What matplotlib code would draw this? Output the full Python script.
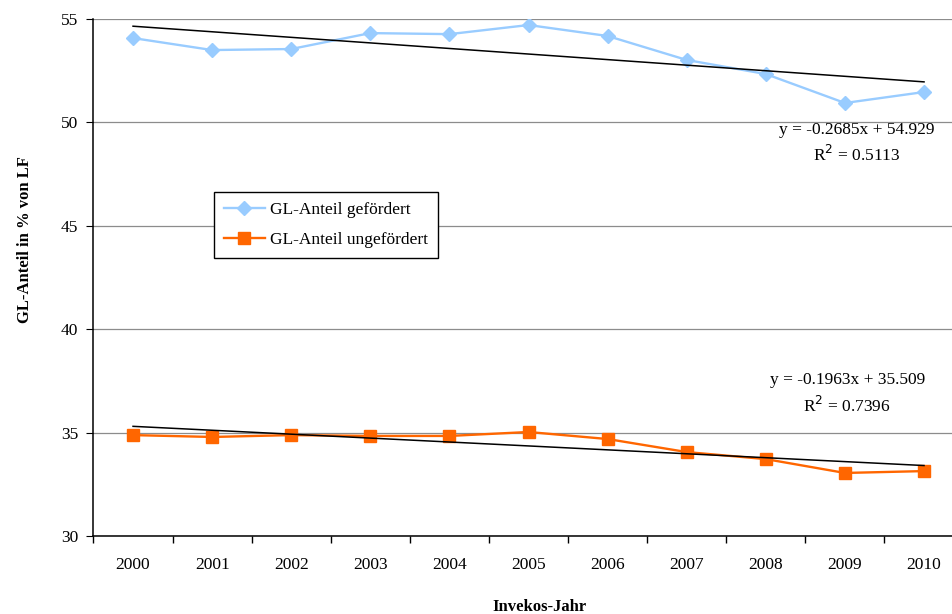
import numpy as np
import matplotlib.pyplot as plt

plt.rcParams['font.family'] = ['Liberation Serif', 'DejaVu Serif']

# data
years = ['2000', '2001', '2002', '2003', '2004', '2005', '2006', '2007', '2008', '2009', '2010']
gefoerdert = [54.08, 53.50, 53.55, 54.32, 54.27, 54.71, 54.18, 53.02, 52.34, 50.94, 51.47]
ungefoerdert = [34.88, 34.79, 34.88, 34.84, 34.84, 35.03, 34.69, 34.06, 33.72, 33.05, 33.14]
eq_gef = ['y = -0.2685x + 54.929', 'R$^2$ = 0.5113']
eq_ungef = ['y = -0.1963x + 35.509', 'R$^2$ = 0.7396']

fig = plt.figure(figsize=(9.53, 6.14), dpi=100)
ax = fig.add_axes([0.0981, 0.127, 0.913, 0.842])

x = np.arange(len(years))
ax.plot(x, gefoerdert, color='#99CCFF', marker='D', markersize=7.5, lw=1.7,
        label='GL-Anteil gefördert', zorder=3)
ax.plot(x, ungefoerdert, color='#FF6600', marker='s', markersize=8.5, lw=1.7,
        label='GL-Anteil ungefördert', zorder=3)

# linear trendlines
for vals in (gefoerdert, ungefoerdert):
    k, d = np.polyfit(x, vals, 1)
    ax.plot(x, k * x + d, color='black', lw=1.1, zorder=4)

ax.set_xlim(-0.5, len(years) - 0.5)
ax.set_ylim(30, 55)
ax.set_yticks(range(30, 56, 5))
ax.set_xticks(x)
ax.set_xticklabels(years)
ax.set_xticks(np.arange(-0.5, len(years), 1), minor=True)
ax.tick_params(axis='x', which='major', length=0, pad=15, labelsize=12.5)
ax.tick_params(axis='x', which='minor', length=5, direction='out', width=1)
ax.tick_params(axis='y', length=5, direction='out', labelsize=12.5, pad=6)
ax.yaxis.grid(True, color='#8c8c8c', lw=0.9)
ax.set_axisbelow(True)
for s in ('top', 'right'):
    ax.spines[s].set_visible(False)
for s in ('left', 'bottom'):
    ax.spines[s].set_linewidth(1.1)

ax.set_ylabel('GL-Anteil in % von LF', fontweight='bold', fontsize=12)
ax.yaxis.set_label_coords(-0.07, 0.573)
ax.set_xlabel('Invekos-Jahr', fontweight='bold', fontsize=12)
ax.xaxis.set_label_coords(0.513, -0.121)

ax.text(9.15, 49.63, eq_gef[0], ha='center', va='center', fontsize=12.5)
ax.text(9.15, 48.42, eq_gef[1], ha='center', va='center', fontsize=12.5)
ax.text(9.03, 37.54, eq_ungef[0], ha='center', va='center', fontsize=12.5)
ax.text(9.03, 36.29, eq_ungef[1], ha='center', va='center', fontsize=12.5)

leg = ax.legend(loc='upper left', bbox_to_anchor=(0.1385, 0.665), fontsize=12.5,
                fancybox=False, framealpha=1, edgecolor='black', borderpad=0.55,
                labelspacing=0.8, handlelength=2.4, borderaxespad=0,
                handletextpad=0.3)
leg.get_frame().set_linewidth(1.0)

fig.savefig('out.png', dpi=100)
